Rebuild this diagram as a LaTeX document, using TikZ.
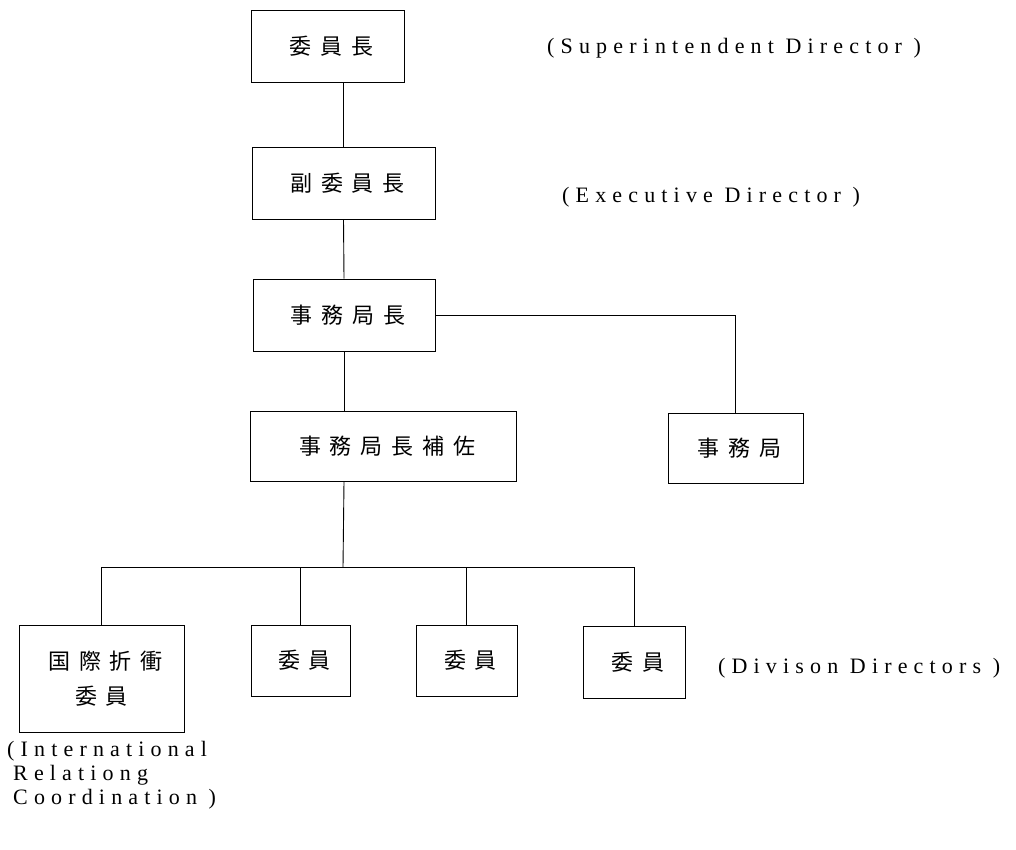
\documentclass[tikz,border=0pt]{standalone}
\usepackage{fontspec}
\setmainfont{Liberation Serif}
\newfontfamily\cjk[LetterSpace=40]{Noto Sans CJK JP}
\newfontfamily\latinsp[LetterSpace=28]{Liberation Serif}
\begin{document}
\begin{tikzpicture}[x=1pt,y=-1pt,
  box/.style={draw, line width=0.9pt, inner sep=0pt, font=\cjk\fontsize{22}{35}\selectfont, align=center},
  lbl/.style={anchor=west, inner sep=0pt, font=\latinsp\fontsize{22}{24}\selectfont, align=left},
  conn/.style={line width=0.9pt}]
\useasboundingbox (0,0) rectangle (1016,850);
\node[box, minimum width=153pt, minimum height=72pt] (b1) at (327.5,46) {\hspace*{8pt}委員長};
\node[box, minimum width=183pt, minimum height=72pt] (b2) at (343.5,183) {\hspace*{8pt}副委員長};
\node[box, minimum width=182pt, minimum height=72pt] (b3) at (344,315) {\hspace*{8pt}事務局長};
\node[box, minimum width=266pt, minimum height=70pt] (b4) at (383,446) {\hspace*{8pt}事務局長補佐};
\node[box, minimum width=135pt, minimum height=70pt] (b5) at (735.5,448) {\hspace*{8pt}事務局};
\node[box, minimum width=165pt, minimum height=107pt] (b6) at (101.5,678.5) {\hspace*{8pt}国際折衝\\委員};
\node[box, minimum width=99pt, minimum height=71pt] (b7) at (300.5,660.5) {\hspace*{8pt}委員};
\node[box, minimum width=101pt, minimum height=71pt] (b8) at (466.5,660.5) {\hspace*{8pt}委員};
\node[box, minimum width=102pt, minimum height=72pt] (b9) at (634,662) {\hspace*{8pt}委員};
\coordinate (bar) at (343,567);
\draw[conn] (b1.south -| b2.north) -- (b2.north);
\draw[conn] (b2.south) -- (b3.north);
\draw[conn] (b3.south) -- (b3.south |- b4.north);
\draw[conn] (b3.east) -| (b5.north);
\draw[conn] (b3.south |- b4.south) -- (bar);
\draw[conn] (b6.north) -- (b6.north |- bar) -- (b9.north |- bar) -- (b9.north);
\draw[conn] (b7.north) -- (b7.north |- bar);
\draw[conn] (b8.north) -- (b8.north |- bar);
\node[lbl] (t1) at (547,48) {(Superintendent Director )};
\node[lbl] (t2) at (562,197) {(Executive Director )};
\node[lbl] (t3) at (718,668) {(Divison Directors )};
\node[lbl, anchor=north west] (t4) at (7,741) {(International\\\hspace*{6pt}Relationg\\\hspace*{6pt}Coordination )};
\end{tikzpicture}
\end{document}
